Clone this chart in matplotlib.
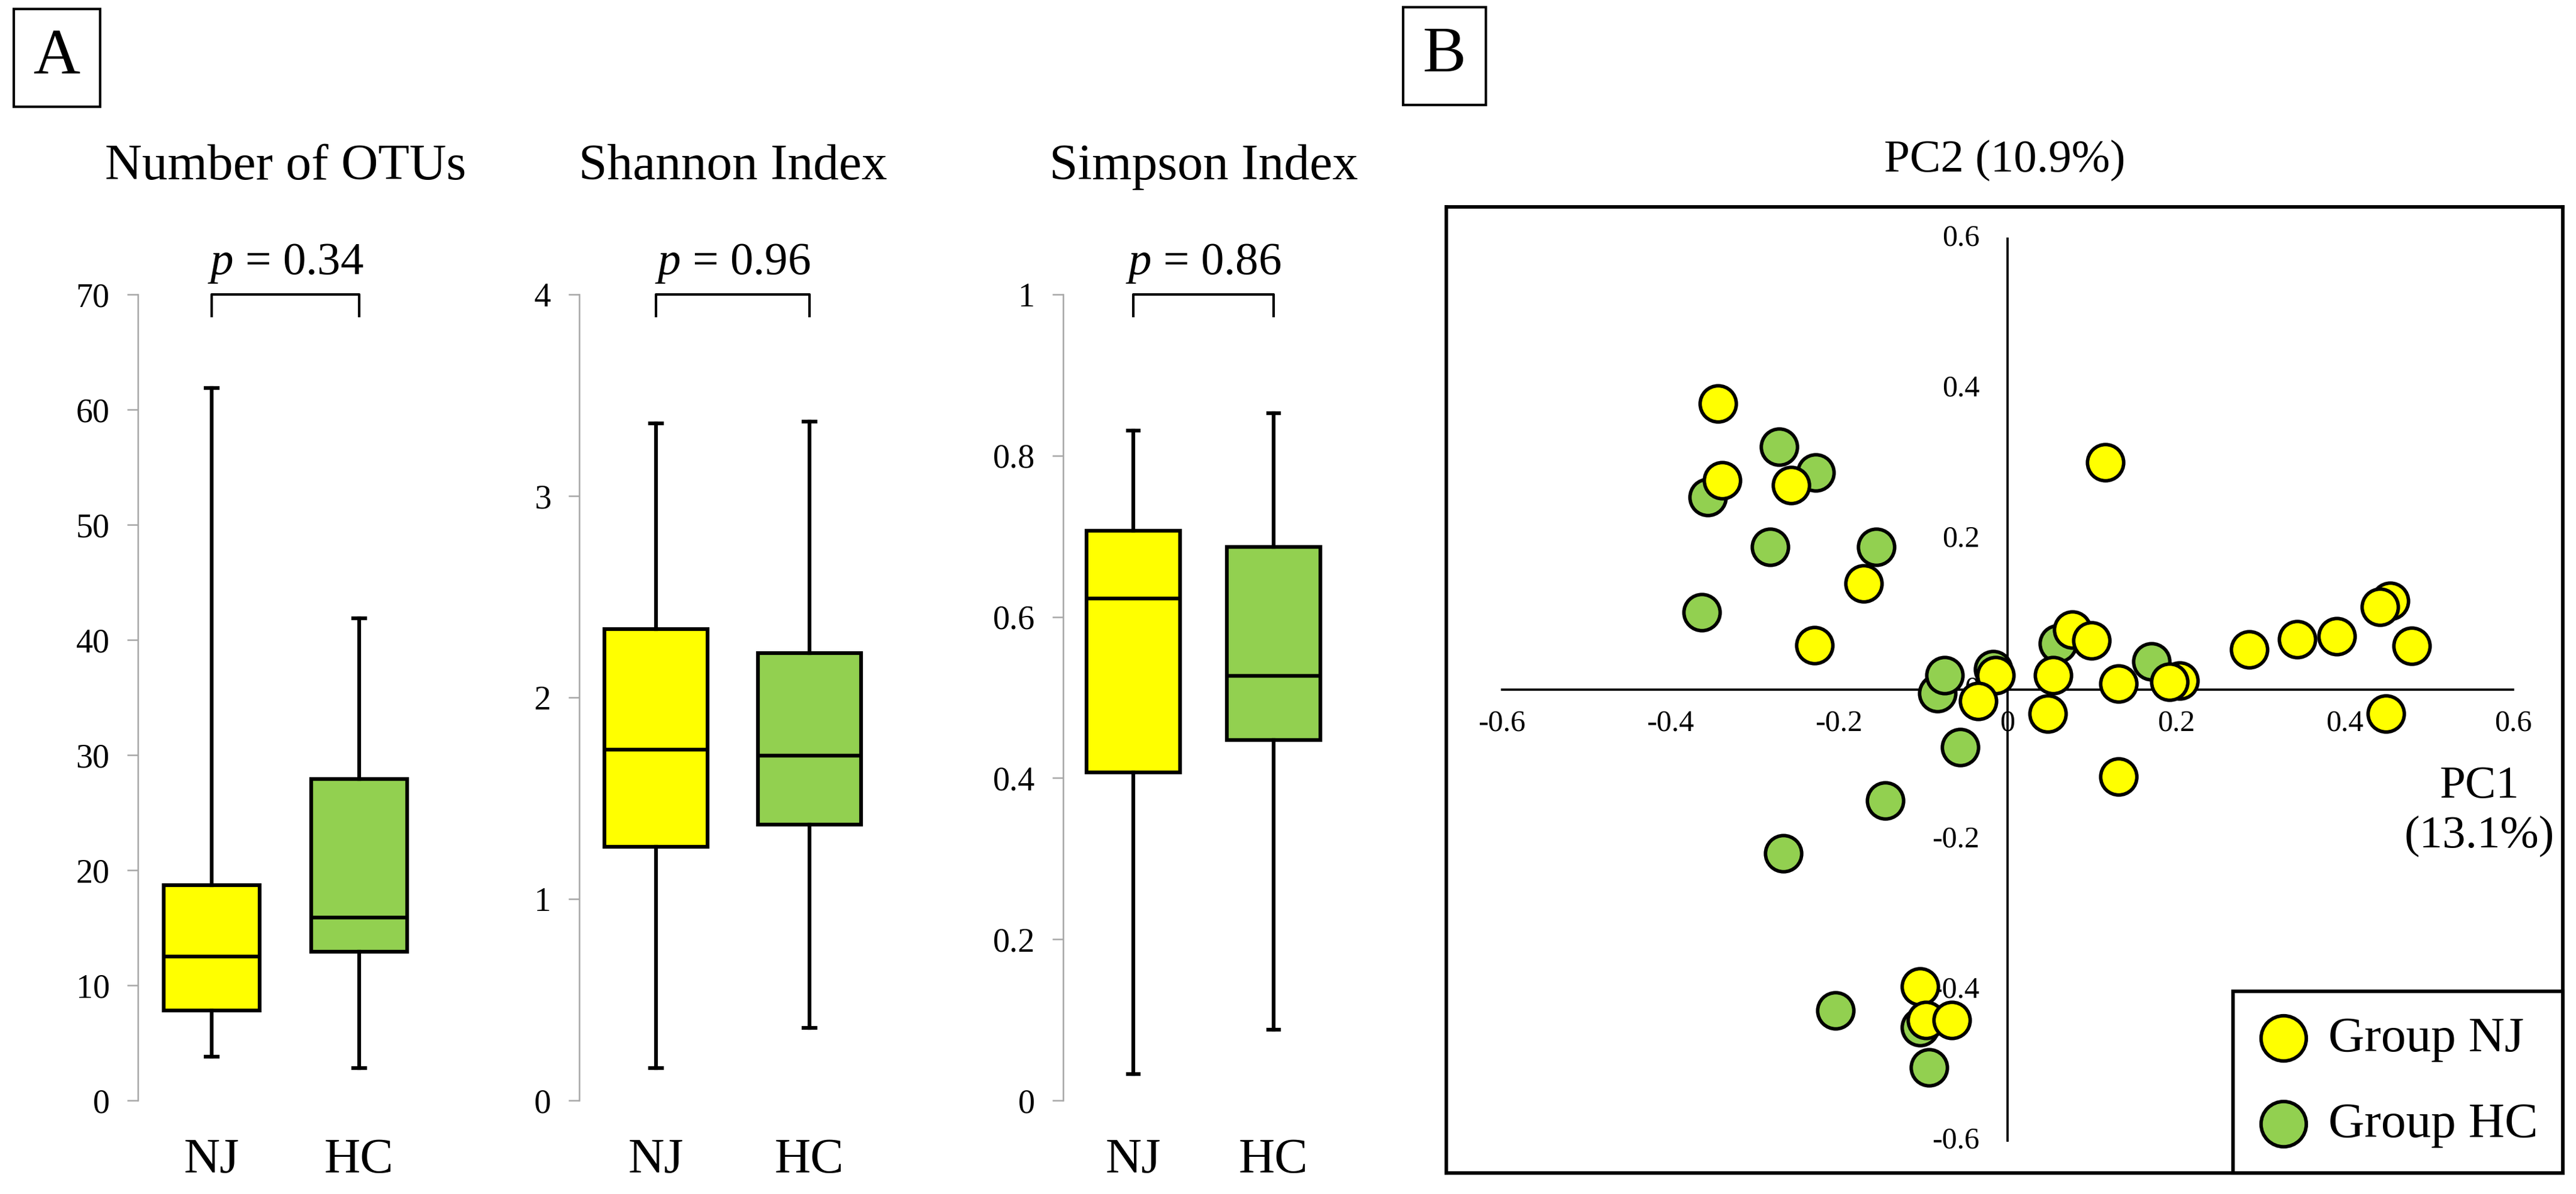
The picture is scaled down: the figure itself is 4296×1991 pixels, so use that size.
import matplotlib
matplotlib.use('Agg')
import matplotlib.pyplot as plt
from matplotlib.transforms import blended_transform_factory

plt.rcParams['font.family'] = ['Liberation Serif', 'DejaVu Serif']
plt.rcParams['mathtext.fontset'] = 'custom'
plt.rcParams['mathtext.rm'] = 'Liberation Serif'
plt.rcParams['mathtext.it'] = 'Liberation Serif:italic'

# ---- data ----
groups = ['NJ', 'HC']
group_colors = ['#FFFF00', '#92D050']

# box stats: [whisker low, Q1, median, Q3, whisker high]
otus_nj = [3.8, 7.8, 12.5, 18.7, 61.9]
otus_hc = [2.8, 12.9, 15.9, 27.9, 41.9]
shannon_nj = [0.16, 1.26, 1.74, 2.34, 3.36]
shannon_hc = [0.36, 1.37, 1.71, 2.22, 3.37]
simpson_nj = [0.033, 0.407, 0.623, 0.707, 0.831]
simpson_hc = [0.088, 0.447, 0.527, 0.687, 0.853]

titles = ['Number of OTUs', 'Shannon Index', 'Simpson Index']
p_values = ['0.34', '0.96', '0.86']

otus_ticks = [0, 10, 20, 30, 40, 50, 60, 70]
shannon_ticks = [0, 1, 2, 3, 4]
simpson_ticks = [0, 0.2, 0.4, 0.6, 0.8, 1]
simpson_ticklabels = ['0', '0.2', '0.4', '0.6', '0.8', '1']

# PCoA scores
nj_pc1 = [-0.344, -0.339, -0.257, -0.171, -0.229, 0.116, 0.077, 0.100, -0.014, -0.035,
          0.054, 0.048, 0.132, 0.204, 0.192, 0.287, 0.344, 0.391, 0.454, 0.442,
          0.480, 0.449, 0.132, -0.104, -0.0965, -0.066]
nj_pc2 = [0.380, 0.278, 0.272, 0.141, 0.059, 0.302, 0.080, 0.065, 0.019, -0.015,
          0.019, -0.032, 0.008, 0.012, 0.010, 0.053, 0.067, 0.071, 0.118, 0.110,
          0.058, -0.032, -0.116, -0.395, -0.440, -0.440]
hc_pc1 = [-0.271, -0.228, -0.356, -0.282, -0.156, -0.363, 0.060, 0.171, -0.083, -0.075,
          -0.017, -0.056, -0.145, -0.266, -0.204, -0.093, -0.104]
hc_pc2 = [0.323, 0.289, 0.256, 0.190, 0.190, 0.103, 0.061, 0.037, -0.005, 0.019,
          0.027, -0.077, -0.148, -0.218, -0.427, -0.503, -0.449]

pca_ticks = [-0.6, -0.4, -0.2, 0, 0.2, 0.4, 0.6]
pca_ticklabels = ['-0.6', '-0.4', '-0.2', '0', '0.2', '0.4', '0.6']

W, H = 4296, 1991
fig = plt.figure(figsize=(W / 300, H / 300), dpi=300)


def px_axes(x0, y0, x1, y1):
    # axes from pixel box (top-left origin)
    return fig.add_axes([x0 / W, 1 - y1 / H, (x1 - x0) / W, (y1 - y0) / H])


def box_panel(ax, nj, hc, ymax, ticks, ticklabels, title, p, width):
    stats = []
    for s in [nj, hc]:
        stats.append(dict(whislo=s[0], q1=s[1], med=s[2], q3=s[3], whishi=s[4], fliers=[]))
    bp = ax.bxp(stats, positions=[1, 2], widths=width, patch_artist=True, showfliers=False,
                capwidths=0.08,
                boxprops=dict(linewidth=1.5, edgecolor='black'),
                medianprops=dict(color='black', linewidth=1.5),
                whiskerprops=dict(color='black', linewidth=1.5),
                capprops=dict(color='black', linewidth=1.5))
    for patch, c in zip(bp['boxes'], group_colors):
        patch.set_facecolor(c)

    ax.set_xlim(0.5, 2.5)
    ax.set_ylim(0, ymax)
    ax.set_yticks(ticks)
    ax.set_yticklabels(ticklabels)
    ax.set_xticks([1, 2])
    ax.set_xticklabels(groups, fontsize=20)
    for side in ['top', 'right', 'bottom']:
        ax.spines[side].set_visible(False)
    ax.spines['left'].set_color('#A6A6A6')
    ax.spines['left'].set_linewidth(0.6)
    ax.tick_params(axis='y', direction='out', length=4.3, width=0.6, color='#A6A6A6',
                   labelsize=13.5, pad=7)
    ax.tick_params(axis='x', length=0, pad=15)

    # significance bracket
    tr = blended_transform_factory(ax.transData, ax.transAxes)
    ax.plot([1, 1, 2, 2], [0.973, 1.0, 1.0, 0.973], color='black', linewidth=1.0,
            transform=tr, clip_on=False)
    ax.text(1.5, 1.025, f'$\\it{{p}}$ = {p}', transform=tr, ha='center', va='baseline',
            fontsize=18.5)
    ax.text(1.5, 1.143, title, transform=tr, ha='center', va='baseline', fontsize=20.5)


ax1 = px_axes(230, 491, 722, 1835)
box_panel(ax1, otus_nj, otus_hc, 70, otus_ticks, [str(t) for t in otus_ticks],
          titles[0], p_values[0], 0.65)

ax2 = px_axes(966, 491, 1478, 1835)
box_panel(ax2, shannon_nj, shannon_hc, 4, shannon_ticks, [str(t) for t in shannon_ticks],
          titles[1], p_values[1], 0.67)

ax3 = px_axes(1773, 491, 2241, 1835)
box_panel(ax3, simpson_nj, simpson_hc, 1, simpson_ticks, simpson_ticklabels,
          titles[2], p_values[2], 0.67)

# ---- PCoA panel ----
axp = px_axes(2412, 345, 4274, 1956)
axp.set_xlim(-0.666, 0.659)
axp.set_ylim(-0.643, 0.642)
axp.set_xticks([])
axp.set_yticks([])
for side in axp.spines:
    axp.spines[side].set_linewidth(1.4)
    axp.spines[side].set_color('black')

axp.plot([-0.6, 0.6], [0, 0], color='black', linewidth=0.9, zorder=1)
axp.plot([0, 0], [-0.6, 0.6], color='black', linewidth=0.9, zorder=1)
for t, lab in zip(pca_ticks, pca_ticklabels):
    axp.text(t, -0.045, lab, ha='center', va='center', fontsize=12, zorder=1)
    axp.text(-0.033, t, lab, ha='right', va='center', fontsize=12, zorder=1)

h_hc = axp.scatter(hc_pc1, hc_pc2, s=210, color=group_colors[1], edgecolors='black',
                   linewidths=1.4, zorder=3)
h_nj = axp.scatter(nj_pc1, nj_pc2, s=210, color=group_colors[0], edgecolors='black',
                   linewidths=1.4, zorder=4)

axp.text(0.5, 1.048, 'PC2 (10.9%)', transform=axp.transAxes, ha='center', va='center',
         fontsize=18.5)
axp.text(0.56, -0.162, 'PC1\n(13.1%)', ha='center', va='center', fontsize=18.5,
         linespacing=1.25)

leg = axp.legend([h_nj, h_hc], ['Group NJ', 'Group HC'], loc='lower right',
                 bbox_to_anchor=(1, 0), borderaxespad=0, fontsize=20, markerscale=1.25,
                 fancybox=False, framealpha=1, edgecolor='black', borderpad=0.5,
                 handlelength=1.0, handletextpad=0.4, labelspacing=0.8)
leg.get_frame().set_linewidth(1.4)
leg.set_zorder(5)

# panel letters
for letter, x, y in [('A', 95, 96), ('B', 2409, 93)]:
    fig.text(x / W, 1 - y / H, letter, ha='center', va='center', fontsize=26,
             bbox=dict(boxstyle='square,pad=0.3', facecolor='white', edgecolor='black',
                       linewidth=1.0))

fig.savefig('out.png', dpi=300)
